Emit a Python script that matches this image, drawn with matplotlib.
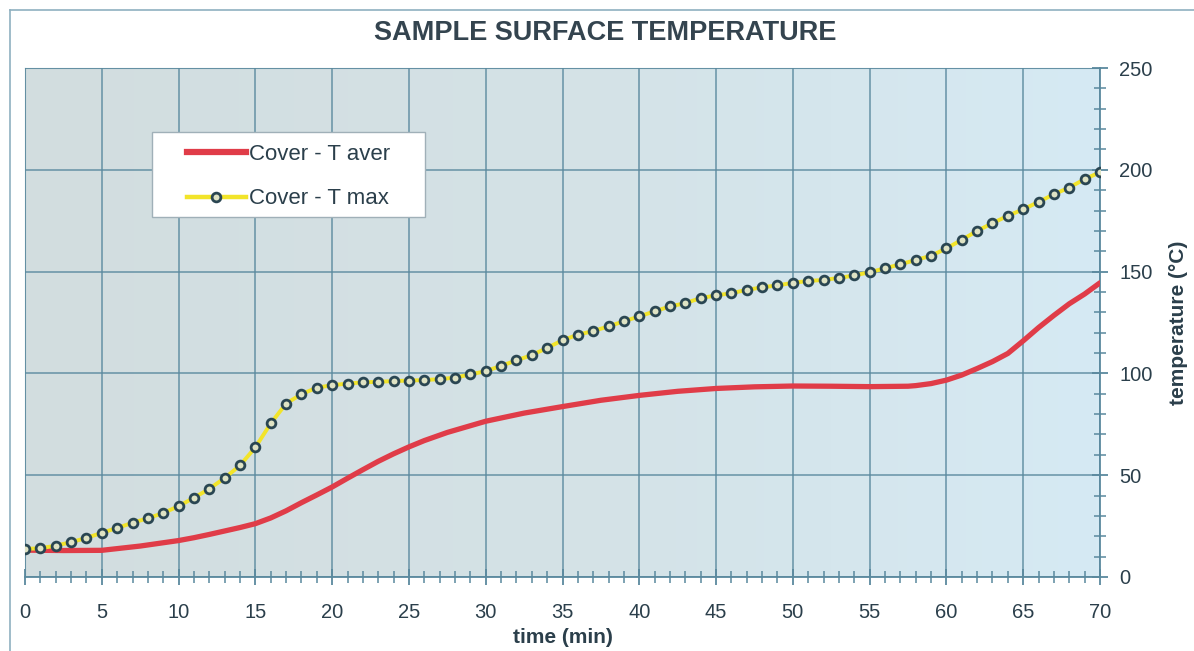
import numpy as np
import matplotlib
matplotlib.use("Agg")
import matplotlib.pyplot as plt
from matplotlib.ticker import MultipleLocator
from matplotlib.lines import Line2D
from matplotlib.patches import Rectangle
from matplotlib.colors import LinearSegmentedColormap

# ---- data ----
tmax_time = list(range(0, 71))
tmax_vals = [13.8, 14.1, 15.4, 17.1, 19.2, 21.7, 24.1, 26.6, 28.9, 31.4,
             34.8, 38.9, 43.3, 48.6, 54.8, 63.7, 75.4, 85.2, 89.8, 93.0,
             94.2, 95.0, 95.6, 95.9, 96.2, 96.5, 96.7, 97.2, 97.9, 99.5,
             101.1, 103.7, 106.4, 109.0, 112.5, 116.3, 119.0, 120.8, 123.1, 125.6,
             128.0, 130.5, 132.9, 134.5, 137.0, 138.3, 139.4, 141.0, 142.3, 143.2,
             144.5, 145.4, 145.9, 146.9, 148.1, 149.7, 151.6, 153.6, 155.7, 157.8,
             161.4, 165.6, 170.0, 173.8, 177.4, 180.6, 184.2, 188.0, 191.3, 195.4,
             198.8]

taver_time = [0, 2.5, 5, 7.5, 10, 11, 12, 13, 14, 15, 16, 17, 18, 19, 20, 21,
              22, 23, 24, 25, 26, 27.5, 30, 32.5, 35, 37.5, 40, 42.5, 45, 47.5,
              50, 52.5, 55, 57.5, 58, 59, 60, 61, 62, 63, 64, 65, 66, 67, 68,
              69, 70]
taver_vals = [13.2, 13.0, 13.1, 15.2, 17.9, 19.3, 20.9, 22.6, 24.3, 26.2, 29.0,
              32.5, 36.5, 40.3, 44.2, 48.5, 52.7, 56.8, 60.5, 63.9, 67.0, 71.0,
              76.5, 80.5, 83.7, 86.8, 89.2, 91.2, 92.6, 93.4, 93.8, 93.7, 93.5,
              93.7, 94.0, 95.0, 96.7, 99.2, 102.4, 105.8, 109.8, 116.0, 122.5,
              128.5, 134.2, 139.0, 144.5]

series_labels = ["Cover - T aver", "Cover - T max"]
title = "SAMPLE SURFACE TEMPERATURE"
xlabel = "time (min)"
ylabel = "temperature (°C)"

# ---- figure ----
plt.rcParams['font.family'] = ['Liberation Sans', 'DejaVu Sans']
W, H = 1194, 651
fig = plt.figure(figsize=(W / 100, H / 100), dpi=100)
fig.patch.set_facecolor('white')

ax = fig.add_axes([25 / W, 1 - 577 / H, (1100 - 25) / W, (577 - 68) / H])

# background gradient (greyish on the left, light blue on the right)
grad = np.linspace(0, 1, 256).reshape(1, -1)
cmap = LinearSegmentedColormap.from_list('bg', ['#d2dddf', '#d4e2e6', '#d6eaf4'])
ax.imshow(grad, extent=[0, 1, 0, 1], transform=ax.transAxes, aspect='auto',
          cmap=cmap, zorder=0)

grid_c = '#5a899e'
text_c = '#2b3f4b'
red_c = '#e03c48'
yel_c = '#f2e42a'
mk_edge = '#2a4652'
mk_face = '#dfe3c4'

ax.plot(taver_time, taver_vals, color=red_c, lw=3.8, zorder=3,
        solid_capstyle='round', solid_joinstyle='round')
ax.plot(tmax_time, tmax_vals, color=yel_c, lw=2.8, zorder=4,
        marker='o', markersize=6.3, markeredgewidth=2.0,
        markeredgecolor=mk_edge, markerfacecolor=mk_face)

ax.set_xlim(0, 70)
ax.set_ylim(0, 250)

ax.xaxis.set_major_locator(MultipleLocator(5))
ax.xaxis.set_minor_locator(MultipleLocator(1))
ax.yaxis.set_major_locator(MultipleLocator(50))
ax.yaxis.set_minor_locator(MultipleLocator(10))
ax.yaxis.tick_right()
ax.yaxis.set_label_position('right')

ax.grid(True, which='major', color=grid_c, lw=1.1, alpha=0.9, zorder=1)
ax.set_axisbelow(True)

for s in ['top', 'left']:
    ax.spines[s].set_color(grid_c)
    ax.spines[s].set_linewidth(0.8)
    ax.spines[s].set_alpha(0.7)
for s in ['bottom', 'right']:
    ax.spines[s].set_color(grid_c)
    ax.spines[s].set_linewidth(1.3)

ax.tick_params(axis='both', which='both', direction='inout', color=grid_c,
               labelcolor=text_c, labelsize=14.5)
ax.tick_params(axis='x', which='major', length=12, width=1.3, pad=13)
ax.tick_params(axis='x', which='minor', length=8, width=1.1)
ax.tick_params(axis='y', which='major', length=12, width=1.3, pad=8)
ax.tick_params(axis='y', which='minor', length=8, width=1.1)

ax.set_xlabel(xlabel, fontsize=15, fontweight='bold', color=text_c,
              labelpad=4)
ax.set_ylabel(ylabel, fontsize=15, fontweight='bold', color=text_c,
              labelpad=12)

fig.text(605 / W, 1 - 33 / H, title, ha='center', va='center', fontsize=19.5,
         fontweight='bold', color='#34444f')

# legend frame
frame = Rectangle((152 / W, 1 - 217 / H), 273 / W, 85 / H,
                  transform=fig.transFigure, facecolor='white',
                  edgecolor='#a0b0b8', lw=1.0, zorder=6)
ax.add_patch(frame)

# legend
handles = [Line2D([], [], color=red_c, lw=4.5),
           Line2D([], [], color=yel_c, lw=3.2, marker='o', markersize=6.3,
                  markeredgewidth=2.0, markeredgecolor=mk_edge,
                  markerfacecolor=mk_face)]
leg = ax.legend(handles, series_labels, loc='upper left',
                bbox_to_anchor=(187 / W, 1 - 144 / H),
                bbox_transform=fig.transFigure,
                frameon=False, fontsize=16, handlelength=2.65,
                handletextpad=0.15, borderpad=0, labelspacing=1.05,
                borderaxespad=0)
leg.set_zorder(7)
for t in leg.get_texts():
    t.set_color(text_c)

# figure frame lines (top and left)
fig.add_artist(Line2D([10 / W, 10 / W], [0, 1 - 10 / H], color='#8fb0c0', lw=1.2,
                      transform=fig.transFigure))
fig.add_artist(Line2D([10 / W, 1], [1 - 10 / H, 1 - 10 / H], color='#8fb0c0', lw=1.2,
                      transform=fig.transFigure))

fig.savefig('out.png', dpi=100, facecolor='white')
